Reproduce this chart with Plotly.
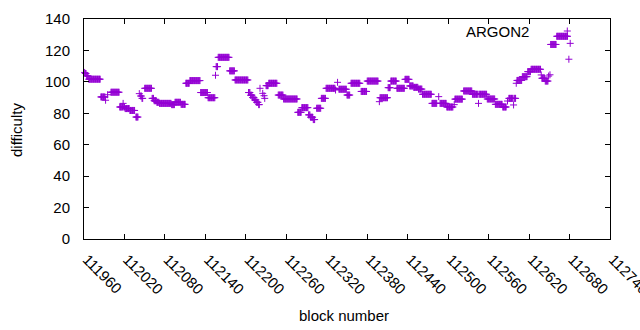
import plotly.graph_objects as go

# Runs of consecutive blocks sharing a difficulty value
run_first = [111961, 111962, 111964, 111967, 111985, 111992, 111995, 112000, 112013, 112018,
             112019, 112021, 112028, 112037, 112042, 112044, 112046, 112050, 112061, 112064,
             112068, 112072, 112090, 112095, 112104, 112111, 112117, 112133, 112144, 112155,
             112156, 112159, 112176, 112184, 112204, 112207, 112210, 112213, 112216, 112219,
             112221, 112225, 112227, 112228, 112230, 112234, 112248, 112256, 112277, 112283,
             112293, 112296, 112300, 112305, 112312, 112319, 112333, 112336, 112338, 112350,
             112356, 112371, 112380, 112398, 112399, 112411, 112415, 112424, 112436, 112443,
             112449, 112456, 112462, 112476, 112486, 112488, 112498, 112509, 112510, 112523,
             112536, 112545, 112546, 112558, 112570, 112581, 112588, 112590, 112597, 112598,
             112601, 112602, 112610, 112618, 112623, 112638, 112639, 112644, 112649, 112651,
             112652, 112661, 112679, 112681]
run_last = [111961, 111963, 111966, 111984, 111991, 111992, 111995, 112012, 112017, 112018,
            112020, 112027, 112035, 112040, 112042, 112045, 112047, 112060, 112063, 112067,
            112071, 112089, 112094, 112103, 112110, 112116, 112132, 112143, 112154, 112155,
            112158, 112175, 112183, 112203, 112206, 112209, 112212, 112215, 112218, 112220,
            112221, 112225, 112227, 112228, 112233, 112246, 112255, 112276, 112282, 112292,
            112295, 112299, 112302, 112311, 112318, 112332, 112333, 112336, 112349, 112354,
            112369, 112379, 112396, 112398, 112410, 112414, 112423, 112435, 112442, 112448,
            112455, 112461, 112475, 112483, 112486, 112497, 112507, 112509, 112521, 112535,
            112544, 112545, 112557, 112569, 112580, 112586, 112588, 112596, 112597, 112600,
            112601, 112609, 112617, 112622, 112637, 112638, 112643, 112648, 112649, 112651,
            112660, 112677, 112679, 112681]
run_difficulty = [106, 105.3, 103.8, 101.7, 90.4, 88.3, 91.8, 93.4, 84, 86.3,
                  84, 83, 81.8, 77.6, 92.5, 91, 89.5, 95.9, 89.5, 88,
                  87, 86.3, 85.5, 87, 85.7, 99.1, 100.8, 93.2, 89.9, 104.2,
                  109.7, 115.6, 107, 101.2, 93.2, 91.5, 90, 88.5, 87, 85.5,
                  95.9, 92.7, 91.2, 89.5, 97.6, 99.1, 91.6, 89.1, 80.6, 83.6,
                  79, 77.5, 76, 83.2, 89.5, 95.9, 94.8, 99.7, 95.3, 91.6,
                  99.1, 93.9, 100.5, 87.4, 89.9, 96.3, 100.5, 95.9, 101.6, 97.4,
                  96.5, 95.4, 92.1, 86.3, 90.6, 86.3, 84, 85.5, 89, 94.2,
                  92.1, 86.3, 92.1, 89.1, 85.7, 84, 87.8, 89.5, 85.3, 89.5,
                  99.1, 100.9, 103.3, 106.5, 108, 104.4, 102.3, 100.5, 103.7, 104.5,
                  123.8, 129, 114.4, 124.5]

x_ticks = list(range(111960, 112741, 60))
y_ticks = [0, 20, 40, 60, 80, 100, 120, 140]
series_name = "ARGON2"
x_title = "block number"
y_title = "difficulty"

blocks, difficulty = [], []
for a, b, d in zip(run_first, run_last, run_difficulty):
    for blk in range(a, b + 1):
        blocks.append(blk)
        difficulty.append(d)

COLOR = "#9400D3"
FONT = dict(family="Liberation Sans, Arial, sans-serif", size=15, color="#000000")
PW, PH = 526, 220

fig = go.Figure()
fig.add_trace(go.Scatter(
    x=blocks, y=difficulty, mode="markers", name=series_name,
    marker=dict(symbol="cross-thin", size=5, color=COLOR,
                line=dict(color=COLOR, width=1)),
    cliponaxis=False, showlegend=False, hoverinfo="skip",
))

axis_common = dict(showline=True, linecolor="black", linewidth=1, mirror="ticks",
                   ticks="inside", ticklen=5, tickcolor="black", tickwidth=1,
                   showgrid=False, zeroline=False, tickfont=FONT, automargin=False)

fig.update_xaxes(range=[111960, 112740], tickmode="array", tickvals=x_ticks,
                 ticktext=["\u00a0" + str(v) for v in x_ticks], tickangle=45,
                 ticklabelstandoff=2, ticklabeloverflow="allow", **axis_common)
fig.update_yaxes(range=[0, 140], tickmode="array", tickvals=y_ticks,
                 ticklabelstandoff=10, **axis_common)

# axis titles
fig.add_annotation(x=(344 - 84) / PW, y=(239 - 315) / PH, xref="paper", yref="paper",
                   text=x_title, showarrow=False, xanchor="center", yanchor="middle", font=FONT)
fig.add_annotation(x=(16 - 84) / PW, y=(239 - 130) / PH, xref="paper", yref="paper",
                   text=y_title, showarrow=False, textangle=-90,
                   xanchor="center", yanchor="middle", font=FONT)

# key (text + sample symbol to its right, gnuplot style)
fig.add_annotation(x=(531 - 84) / PW, y=(239 - 31) / PH, xref="paper", yref="paper",
                   text=series_name, showarrow=False, xanchor="right", yanchor="middle",
                   font=FONT)
kx, ky = (567.3 - 84) / PW, (239 - 31) / PH
dx, dy = 3.5 / PW, 3.5 / PH
fig.add_shape(type="line", xref="paper", yref="paper", x0=kx - dx, x1=kx + dx, y0=ky, y1=ky,
              line=dict(color=COLOR, width=1))
fig.add_shape(type="line", xref="paper", yref="paper", x0=kx, x1=kx, y0=ky - dy, y1=ky + dy,
              line=dict(color=COLOR, width=1))

fig.update_layout(width=640, height=330, margin=dict(l=84, r=30, t=19, b=91),
                  paper_bgcolor="white", plot_bgcolor="white", font=FONT,
                  hovermode=False)

fig.write_html("out.html", config={"displayModeBar": False, "staticPlot": True},
               post_script="document.body.style.margin='0';document.body.style.overflow='hidden';")
